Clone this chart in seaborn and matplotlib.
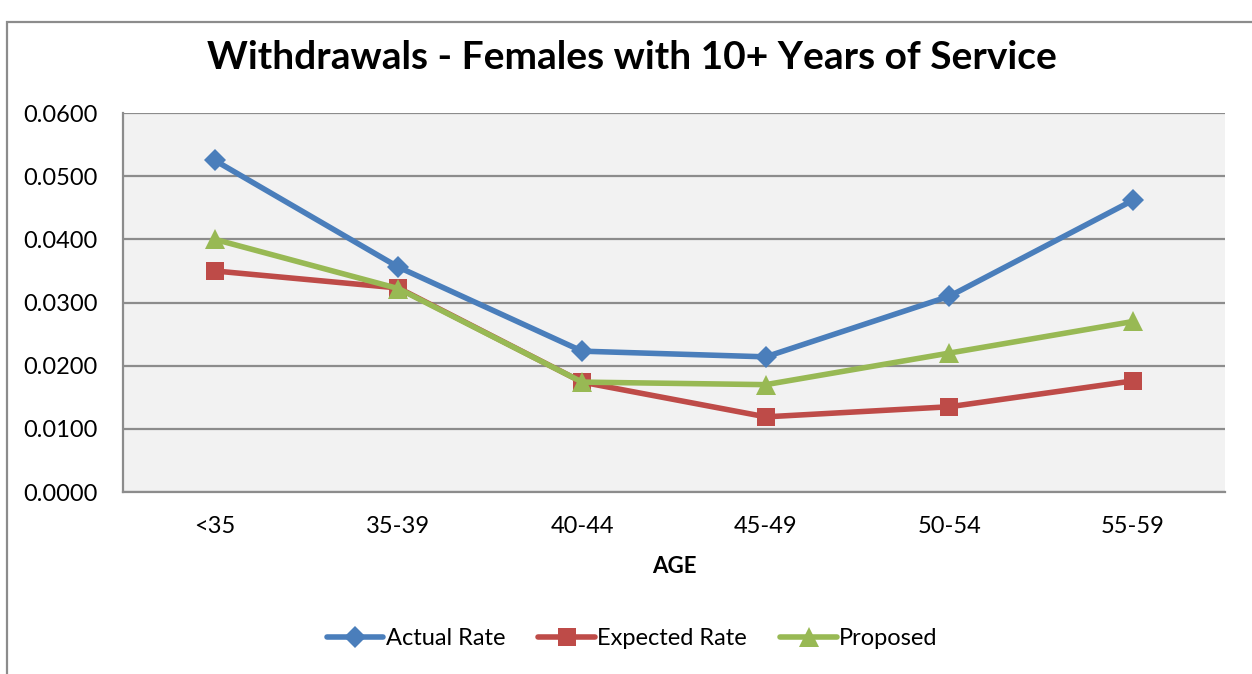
import matplotlib
matplotlib.use("Agg")
import matplotlib.pyplot as plt
from matplotlib.ticker import FixedLocator, NullFormatter, FixedFormatter
import seaborn as sns
import pandas as pd

age_groups = ["<35", "35-39", "40-44", "45-49", "50-54", "55-59"]
actual_rate = [0.0525, 0.0356, 0.0223, 0.0214, 0.0310, 0.0462]
expected_rate = [0.0350, 0.0323, 0.0174, 0.0119, 0.0135, 0.0176]
proposed = [0.0400, 0.0322, 0.0174, 0.0170, 0.0220, 0.0270]
series_names = ["Actual Rate", "Expected Rate", "Proposed"]
y_ticks = [0.0, 0.01, 0.02, 0.03, 0.04, 0.05, 0.06]

sns.set_theme(style="white")
plt.rcParams["font.family"] = ["Lato", "DejaVu Sans"]
plt.rcParams["text.color"] = "black"

rows = []
for name, vals in zip(series_names, [actual_rate, expected_rate, proposed]):
    for i, v in enumerate(vals):
        rows.append({"pos": i, "age": age_groups[i], "rate": v, "series": name})
df = pd.DataFrame(rows)

colors = {"Actual Rate": "#4A7EBB", "Expected Rate": "#BE4B48", "Proposed": "#98B954"}
markers = {"Actual Rate": "D", "Expected Rate": "s", "Proposed": "^"}
msizes = {"Actual Rate": 11, "Expected Rate": 13, "Proposed": 14}

fig = plt.figure(figsize=(12.52, 6.74), dpi=100)
fig.patch.set_facecolor("white")
ax = fig.add_axes([0.0982, 0.270, 0.8802, 0.5623])
ax.set_facecolor("#F2F2F2")

for name in series_names:
    sub = df[df["series"] == name]
    sns.lineplot(data=sub, x="pos", y="rate", ax=ax, color=colors[name],
                 linewidth=4, marker=markers[name], markersize=msizes[name],
                 markeredgewidth=0, label=name, zorder=3)

ax.set_xlim(-0.5, len(age_groups) - 0.5)
ax.set_ylim(0, 0.06)
ax.set_yticks(y_ticks)
ax.set_yticklabels([f"{t:.4f}" for t in y_ticks])
ax.yaxis.grid(True, color="#8C8C8C", linewidth=1.6)
ax.xaxis.grid(False)
ax.set_axisbelow(True)

# category boundaries carry the tick marks, centres carry the labels
ax.xaxis.set_major_locator(FixedLocator([i - 0.5 for i in range(len(age_groups) + 1)]))
ax.xaxis.set_major_formatter(NullFormatter())
ax.xaxis.set_minor_locator(FixedLocator(list(range(len(age_groups)))))
ax.xaxis.set_minor_formatter(FixedFormatter(age_groups))
ax.tick_params(axis="x", which="major", length=8, width=1.4, color="#8C8C8C", direction="out")
ax.tick_params(axis="x", which="minor", length=0, labelsize=17, pad=17, labelcolor="black")
ax.tick_params(axis="y", length=8, width=1.4, color="#8C8C8C", direction="out",
               labelsize=17, pad=10, labelcolor="black")

for side in ["top", "right"]:
    ax.spines[side].set_visible(False)
for side in ["left", "bottom"]:
    ax.spines[side].set_color("#8C8C8C")
    ax.spines[side].set_linewidth(1.6)

ax.set_xlabel("AGE", fontsize=16, fontweight="bold", labelpad=14, color="black")
ax.set_ylabel("")

fig.text(0.505, 0.915, "Withdrawals - Females with 10+ Years of Service",
         ha="center", va="center", fontsize=28, fontweight="bold", color="black")

leg = ax.legend(loc="center", ncol=3, frameon=False, fontsize=17, handlelength=2.4,
                columnspacing=1.4, handletextpad=0.1)
leg.set_bbox_to_anchor((0.505, 0.052), transform=fig.transFigure)
for t in leg.get_texts():
    t.set_color("black")

# outer chart frame
frame = plt.Rectangle((0.0055, -0.02), 1.2, 1.0081 - 0.02, transform=fig.transFigure,
                      fill=False, edgecolor="#8C8C8C", linewidth=1.6)
fig.patches.append(frame)

fig.savefig("out.png", dpi=100)
